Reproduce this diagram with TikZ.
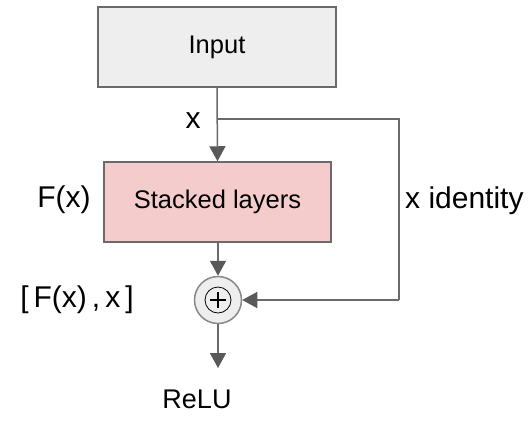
\documentclass[tikz,border=0pt]{standalone}
\usepackage{fontspec}
\setmainfont{Liberation Sans}
\usetikzlibrary{arrows.meta}
\definecolor{linegray}{HTML}{6A6A6A}
\definecolor{tipgray}{HTML}{595959}
\definecolor{inputfill}{HTML}{EEEEEE}
\definecolor{stackfill}{HTML}{F4CCCC}
\begin{document}
\begin{tikzpicture}[x=1pt,y=-1pt,
  block/.style={draw=linegray,line width=1.5pt,minimum width=#1,minimum height=80pt,inner sep=0pt},
  conn/.style={draw=linegray,line width=1.5pt,-{Triangle[length=15pt,width=16pt,color=tipgray]}},
  plain/.style={draw=linegray,line width=1.5pt},
  lbl/.style={font=\fontsize{30}{35}\selectfont,inner sep=0pt},
  boxtxt/.style={font=\fontsize{25.5}{30}\selectfont}]
\useasboundingbox (0,0) rectangle (529,424);
% blocks
\node[block=238pt,fill=inputfill,boxtxt] (input) at (217,47) {Input};
\node[block=227pt,fill=stackfill,boxtxt] (stack) at (217.5,202) {Stacked layers};
% sum node
\node[circle,draw=linegray!80,line width=1.5pt,fill=inputfill,minimum size=47pt,inner sep=0pt] (sum) at (218,300) {};
\draw[line width=0.8pt] (sum.center) circle (13pt);
\draw[line width=1.6pt] ([xshift=-8pt]sum.center) -- ([xshift=8pt]sum.center)
  ([yshift=-8pt]sum.center) -- ([yshift=8pt]sum.center);
% output anchor
\coordinate (out) at (218,368);
\coordinate (branch) at (217,119);
\coordinate (corner1) at (399,119);
\coordinate (corner2) at (399,300);
% connectors
\draw[conn] (input.south) -- (stack.north);
\draw[plain] (branch) -- (corner1) -- (corner2);
\draw[conn] (corner2) -- (sum.east);
\draw[conn] (stack.south -| sum) -- (sum.north);
\draw[conn] (sum.south) -- (out);
% labels
\node[lbl] (xlab) at (193,121) {x};
\node[lbl,anchor=west] (idlab) at (405,201) {x identity};
\node[lbl] (flab) at (64,200) {F(x)};
\node[lbl] (sumlab) at (77,300) {[\,F(x)\,,\,x\,]};
\node[lbl,font=\fontsize{27}{32}\selectfont] (relu) at (197,399) {ReLU};
\end{tikzpicture}
\end{document}
